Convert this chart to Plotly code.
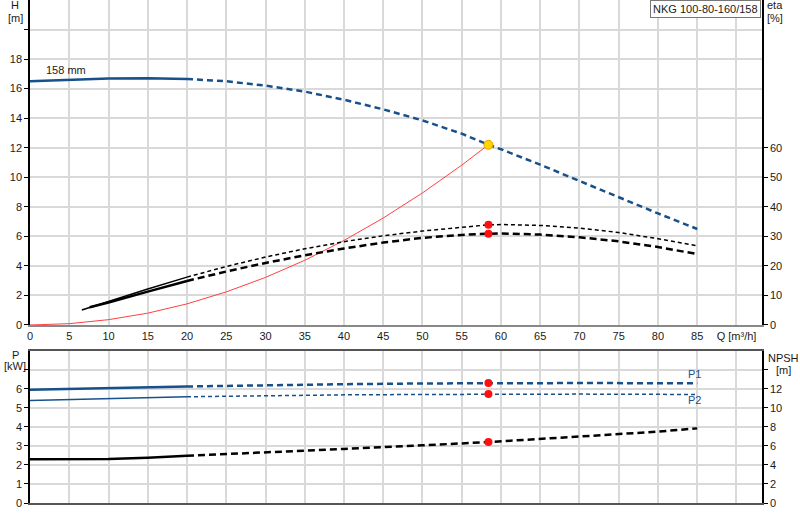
import plotly.graph_objects as go

# pump head curve H [m]
q_head = [0, 5, 10, 15, 20, 25, 30, 35, 40, 45, 50, 55, 58.4, 60, 65, 70, 75, 80, 85]
head = [16.5, 16.6, 16.68, 16.7, 16.65, 16.5, 16.2, 15.8, 15.25, 14.6, 13.85, 12.95, 12.2,
        11.9, 10.85, 9.75, 8.6, 7.55, 6.5]

# system curve H [m]
q_sys = [0, 5, 10, 15, 20, 25, 30, 35, 40, 45, 50, 55, 58.4]
h_sys = [0, 0.09, 0.36, 0.8, 1.43, 2.24, 3.22, 4.38, 5.72, 7.24, 8.94, 10.82, 12.2]

# efficiency curves eta [%]
q_eta1 = [6.6, 10, 15, 20, 25, 30, 35, 40, 45, 50, 55, 58.4, 60, 65, 70, 75, 80, 85]
eta1 = [5.1, 8.0, 12.2, 16.2, 19.8, 23.0, 25.8, 28.2, 30.2, 31.8, 33.1, 33.9, 34.0, 33.7,
        32.8, 31.3, 29.2, 26.8]
q_eta2 = [7.6, 10, 15, 20, 25, 30, 35, 40, 45, 50, 55, 58.4, 60, 65, 70, 75, 80, 85]
eta2 = [6.0, 7.6, 11.3, 14.9, 18.1, 21.0, 23.6, 25.9, 27.9, 29.5, 30.5, 30.9, 31.0, 30.6,
        29.7, 28.3, 26.4, 24.0]

# power P1, P2 [kW] and NPSH [m]
q_pow = [0, 10, 20, 30, 40, 50, 58.4, 70, 85]
p1 = [5.95, 6.04, 6.12, 6.19, 6.24, 6.28, 6.3, 6.3, 6.29]
p2 = [5.39, 5.47, 5.58, 5.64, 5.68, 5.7, 5.72, 5.72, 5.7]
q_npsh = [0, 5, 10, 15, 20, 30, 40, 50, 58.4, 70, 80, 85]
npsh = [4.6, 4.6, 4.62, 4.75, 4.96, 5.3, 5.68, 6.06, 6.4, 6.98, 7.5, 7.84]

duty_q = 58.4

BLUE = "#17508a"
FONT = "Liberation Sans"


def split(qs, vs, at=20):
    solid = [(q, v) for q, v in zip(qs, vs) if q <= at]
    dashed = [(q, v) for q, v in zip(qs, vs) if q >= at]
    return [p[0] for p in solid], [p[1] for p in solid], [p[0] for p in dashed], [p[1] for p in dashed]


def add_curve(fig, qs, vs, color, width, dash, xa, ya):
    sq, sv, dq, dv = split(qs, vs)
    fig.add_trace(go.Scatter(x=sq, y=sv, mode="lines", line=dict(color=color, width=width),
                             xaxis=xa, yaxis=ya, hoverinfo="skip"))
    fig.add_trace(go.Scatter(x=dq, y=dv, mode="lines", line=dict(color=color, width=width, dash=dash),
                             xaxis=xa, yaxis=ya, hoverinfo="skip"))


def at_duty(qs, vs):
    return vs[qs.index(duty_q)]


fig = go.Figure()

add_curve(fig, q_head, head, BLUE, 2.5, "6px,4px", "x", "y")
fig.add_trace(go.Scatter(x=q_sys, y=h_sys, mode="lines", line=dict(color="#ff4040", width=1),
                         xaxis="x", yaxis="y", hoverinfo="skip"))
add_curve(fig, q_eta1, eta1, "black", 1.5, "4px,3px", "x", "y2")
add_curve(fig, q_eta2, eta2, "black", 2.5, "7px,4px", "x", "y2")

fig.add_trace(go.Scatter(x=[duty_q, duty_q], y=[at_duty(q_eta1, eta1), at_duty(q_eta2, eta2)],
                         mode="markers", marker=dict(color="#ff1010", size=8),
                         xaxis="x", yaxis="y2", hoverinfo="skip"))
fig.add_trace(go.Scatter(x=[duty_q], y=[at_duty(q_head, head)], mode="markers",
                         marker=dict(color="#ffd700", size=9, line=dict(color="#f0a000", width=1)),
                         xaxis="x", yaxis="y", hoverinfo="skip"))

add_curve(fig, q_pow, p1, BLUE, 2.5, "6px,4px", "x2", "y3")
add_curve(fig, q_pow, p2, BLUE, 1.5, "4px,3px", "x2", "y3")
add_curve(fig, q_npsh, npsh, "black", 2.5, "7px,4px", "x2", "y4")
fig.add_trace(go.Scatter(x=[duty_q, duty_q], y=[at_duty(q_pow, p1), at_duty(q_pow, p2)],
                         mode="markers", marker=dict(color="#ff1010", size=8),
                         xaxis="x2", yaxis="y3", hoverinfo="skip"))
fig.add_trace(go.Scatter(x=[duty_q], y=[at_duty(q_npsh, npsh)],
                         mode="markers", marker=dict(color="#ff1010", size=8),
                         xaxis="x2", yaxis="y4", hoverinfo="skip"))

qticks = list(range(0, 95, 5))
qtext = [str(v) for v in qticks[:-1]] + ["Q [m³/h]"]
grid = "#d9d9d9"
tickfont = dict(family=FONT, size=11, color="#1a1a1a")
xrange_ = [0, 93.25]

h_ticks = list(range(0, 22, 2))
p_ticks = list(range(0, 8))
npsh_ticks = list(range(0, 16, 2))

fig.update_layout(
    width=800, height=520,
    margin=dict(l=30, r=38, t=0, b=17),
    paper_bgcolor="white", plot_bgcolor="white",
    showlegend=False,
    font=dict(family=FONT, size=11, color="#1a1a1a"),
    xaxis=dict(domain=[0, 1], range=xrange_, tickvals=qticks, ticktext=qtext, tickfont=tickfont,
               showgrid=True, gridcolor=grid, gridwidth=1.5, zeroline=False,
               showline=True, linecolor="#888888", linewidth=2, anchor="y",
               ticks="", ticklen=0),
    yaxis=dict(domain=[0.3539, 1], range=[0, 22], tickvals=h_ticks,
               ticktext=[str(v) for v in h_ticks[:-1]] + [""], tickfont=tickfont,
               showgrid=True, gridcolor=grid, gridwidth=1.5, zeroline=False,
               showline=True, linecolor="black", linewidth=1.5, ticks="outside", ticklen=4,
               tickcolor="black", anchor="x"),
    yaxis2=dict(range=[0, 110], overlaying="y", side="right", anchor="x",
                tickvals=list(range(0, 70, 10)), tickfont=tickfont, showgrid=False, zeroline=False,
                showline=True, linecolor="black", linewidth=1.5, ticks="outside", ticklen=4,
                tickcolor="black"),
    xaxis2=dict(domain=[0, 1], range=xrange_, tickvals=qticks, showticklabels=False,
                showgrid=True, gridcolor=grid, gridwidth=1.5, zeroline=False,
                showline=True, linecolor="#555555", linewidth=1.5, mirror=True, anchor="y3",
                ticks=""),
    yaxis3=dict(domain=[0, 0.3028], range=[0, 8], tickvals=p_ticks,
                ticktext=[str(v) for v in p_ticks[:-1]] + [""], tickfont=tickfont,
                showgrid=True, gridcolor=grid, gridwidth=1.5, zeroline=False,
                showline=True, linecolor="black", linewidth=1.5, ticks="outside", ticklen=4,
                tickcolor="black", anchor="x2"),
    yaxis4=dict(range=[0, 16], overlaying="y3", side="right", anchor="x2",
                tickvals=npsh_ticks, ticktext=[str(v) for v in npsh_ticks[:-1]] + [""],
                tickfont=tickfont, showgrid=False, zeroline=False,
                showline=True, linecolor="black", linewidth=1.5, ticks="outside", ticklen=4,
                tickcolor="black"),
)

labels = [
    ("H", -0.02, 0.99), ("[m]", -0.02, 0.965),
    ("eta", 1.018, 0.99), ("[%]", 1.018, 0.965),
    ("P", -0.02, 0.295), ("[kW]", -0.02, 0.272),
    ("NPSH", 1.03, 0.289), ("[m]", 1.03, 0.265),
]
for txt, x, y in labels:
    fig.add_annotation(text=txt, x=x, y=y, xref="paper", yref="paper", showarrow=False,
                       xanchor="center", yanchor="middle", font=dict(family=FONT, size=11))

fig.add_annotation(text="NKG 100-80-160/158", x=0.9986, y=1, xref="paper", yref="paper",
                   xanchor="right", yanchor="top", showarrow=False, bgcolor="white",
                   bordercolor="#777777", borderwidth=1, borderpad=2,
                   font=dict(family=FONT, size=11))
fig.add_annotation(text="158 mm", x=4.6, y=17.25, xref="x", yref="y", showarrow=False,
                   font=dict(family=FONT, size=11))
fig.add_annotation(text="P1", x=84.7, y=6.8, xref="x2", yref="y3", showarrow=False,
                   font=dict(family=FONT, size=11, color=BLUE))
fig.add_annotation(text="P2", x=84.7, y=5.4, xref="x2", yref="y3", showarrow=False,
                   font=dict(family=FONT, size=11, color=BLUE))

# page body has a default 8px margin; drop it so the figure sits at the window corner
fig.write_html("out.html", config={"displayModeBar": False},
               post_script="document.body.style.margin='0';")
